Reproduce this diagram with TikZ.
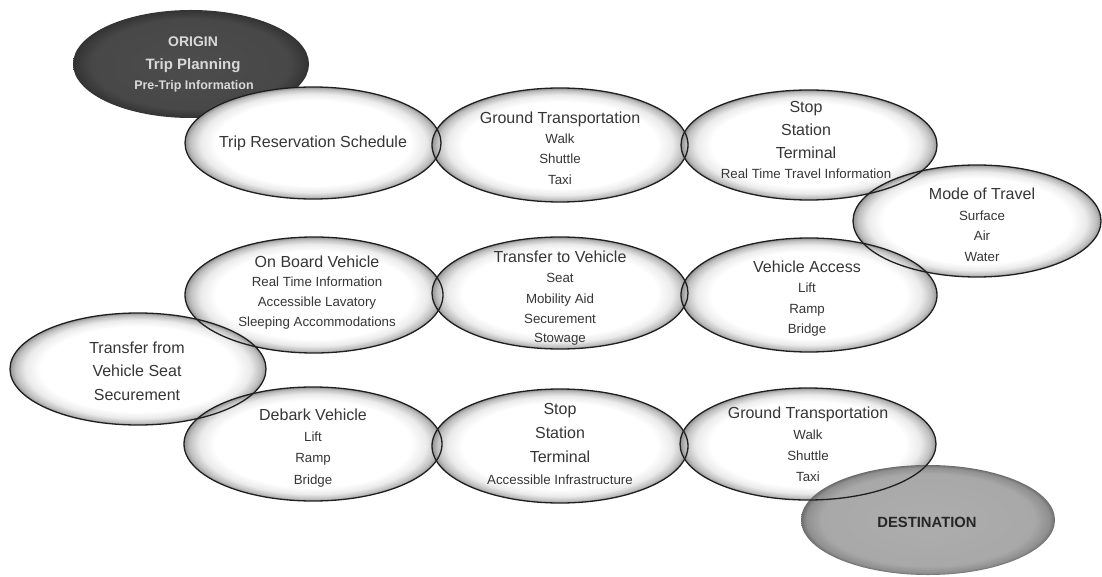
\documentclass[tikz,border=0pt]{standalone}
\usepackage{fontspec}
\setmainfont{Liberation Sans}
\usetikzlibrary{shapes.geometric}
\definecolor{txt}{HTML}{363636}
\definecolor{origtxt}{HTML}{D9D9D9}
\definecolor{desttxt}{HTML}{262626}
\pgfdeclareradialshading{glow}{\pgfpoint{0bp}{0bp}}{color(0bp)=(white); color(19bp)=(white); color(22bp)=(black!8); color(24bp)=(black!25); color(25bp)=(black!42); color(50bp)=(black!42)}
\pgfdeclareradialshading{darkglow}{\pgfpoint{0bp}{0bp}}{color(0bp)=(black!70); color(21bp)=(black!72); color(25bp)=(black!80); color(50bp)=(black!80)}
\pgfdeclareradialshading{destglow}{\pgfpoint{0bp}{0bp}}{color(0bp)=(black!32); color(21bp)=(black!34); color(24bp)=(black!44); color(25bp)=(black!58); color(50bp)=(black!58)}
\tikzset{
  bubble/.style={ellipse, inner sep=0pt, shading=glow},
  outl/.style={draw=black!88, line width=1.3pt},
  ttl/.style={anchor=base, yshift=-5.5pt, inner sep=0pt, text=txt, font=\fontsize{16}{19}\selectfont},
  sub/.style={anchor=base, yshift=-4.7pt, inner sep=0pt, text=txt, font=\fontsize{13.3}{16}\selectfont},
}
\begin{document}
\begin{tikzpicture}[x=1pt, y=-1pt]
\useasboundingbox (0,0) rectangle (1102,577);
% origin
\node[ellipse, inner sep=0pt, shading=darkglow, minimum width=236pt, minimum height=108pt] (origin) at (191,64) {};
% white bubbles
\foreach \n/\x/\y/\a/\b in {tripres/313/143/128/56, gta/560/145/128/57, ssta/809/145/128/55, mode/977/221/124/56,
  onboard/314/295/129/58, ttv/560/293/128/56, va/809/295/128/57, tfv/138/369/128/56,
  debark/313/444/129/57, sstb/560/446/128/57, gtb/808/444/128/56}
  \node[bubble, minimum width={2*\a pt}, minimum height={2*\b pt}] (\n) at (\x,\y) {};
% destination
\node[ellipse, inner sep=0pt, shading=destglow, minimum width=254pt, minimum height=110pt] (dest) at (928,520) {};
% outlines
\foreach \n/\a/\b in {tripres/128/56, gta/128/57, ssta/128/55, mode/124/56,
  onboard/129/58, ttv/128/56, va/128/57, tfv/128/56,
  debark/129/57, sstb/128/57, gtb/128/56}
  \draw[outl] (\n.center) ellipse [x radius=\a pt, y radius=\b pt];
% origin text
\node[anchor=base, yshift=-5pt, inner sep=0pt, text=origtxt, font=\bfseries\fontsize{14}{16}\selectfont] (o1) at (193,42) {ORIGIN};
\node[anchor=base, yshift=-5.5pt, inner sep=0pt, text=origtxt, font=\bfseries\fontsize{15}{17}\selectfont] (o2) at (193,64) {Trip Planning};
\node[anchor=base, yshift=-4.5pt, inner sep=0pt, text=origtxt, font=\bfseries\fontsize{12.5}{15}\selectfont] (o3) at (194,85) {Pre-Trip Information};
% destination text
\node[anchor=base, yshift=-5.3pt, inner sep=0pt, text=desttxt, font=\bfseries\fontsize{14.8}{17}\selectfont] (d1) at (927,522) {DESTINATION};
% titles
\foreach \n/\x/\y/\t in {t1/313/142/Trip Reservation Schedule, t2/560/118/Ground Transportation,
  t3/806/107/Stop, t4/806/130/Station, t5/806/153/Terminal, t6/982/194/Mode of Travel,
  t7/317/262/On Board Vehicle, t8/560/257/Transfer to Vehicle, t9/807/267/Vehicle Access,
  t10/137/348/Transfer from, t11/137/371/Vehicle Seat, t12/137/395/Securement,
  t13/313/415/Debark Vehicle, t14/560/409/Stop, t15/560/433/Station, t16/560/457/Terminal,
  t17/808/413/Ground Transportation}
  \node[ttl] (\n) at (\x,\y) {\t};
% sub lines
\foreach \n/\x/\y/\t in {s1/560/139/Walk, s2/560/159/Shuttle, s3/560/180/Taxi,
  s4/806/174/Real Time Travel Information,
  s5/982/216/Surface, s6/982/236/Air, s7/982/257/Water,
  s8/317/282/Real Time Information, s9/317/302/Accessible Lavatory, s10/317/322/Sleeping Accommodations,
  s11/560/278/Seat, s12/560/299/Mobility Aid, s13/560/319/Securement, s14/560/338/Stowage,
  s15/807/288/Lift, s16/807/309/Ramp, s17/807/329/Bridge,
  s18/313/437/Lift, s19/313/458/Ramp, s20/313/480/Bridge,
  s21/560/480/Accessible Infrastructure,
  s22/808/435/Walk, s23/808/456/Shuttle, s24/808/477/Taxi}
  \node[sub] (\n) at (\x,\y) {\t};
\end{tikzpicture}
\end{document}
